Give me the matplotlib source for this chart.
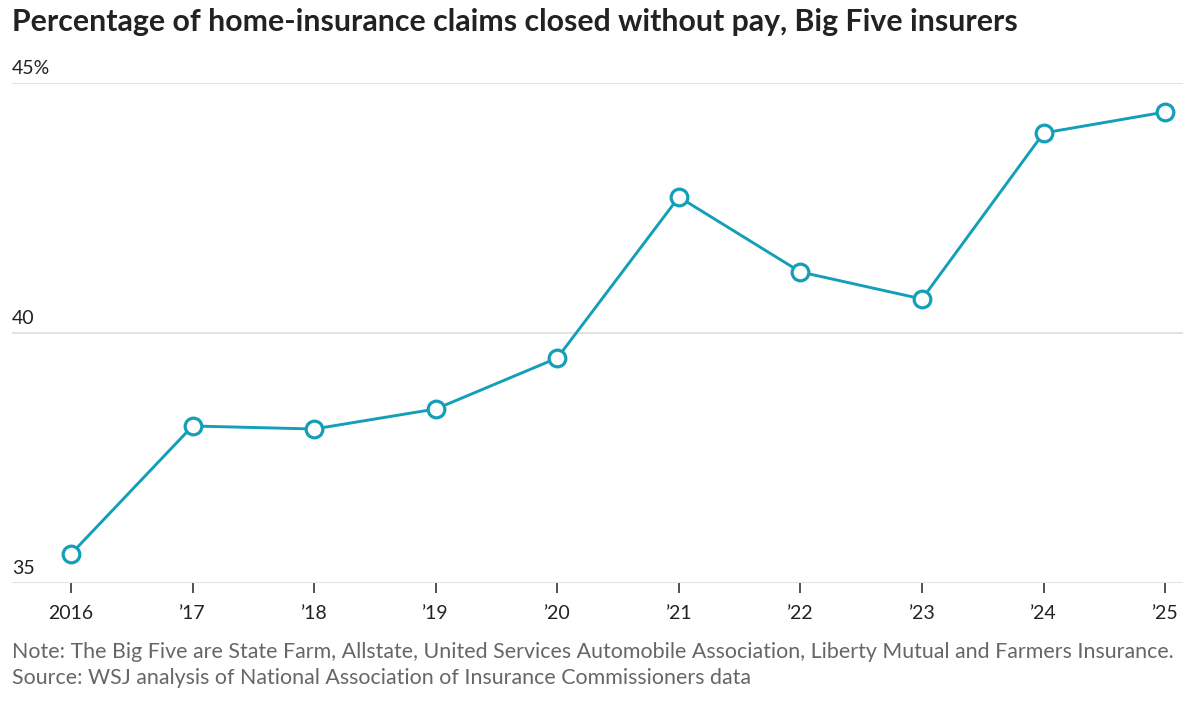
import matplotlib.pyplot as plt
import matplotlib.transforms as mtransforms

years = [2016, 2017, 2018, 2019, 2020, 2021, 2022, 2023, 2024, 2025]
x_labels = ['2016', '\u201917', '\u201918', '\u201919', '\u201920',
            '\u201921', '\u201922', '\u201923', '\u201924', '\u201925']
pct = [35.58, 38.14, 38.08, 38.48, 39.50, 42.72, 41.22, 40.68, 44.00, 44.42]
y_ticks = [35, 40, 45]
y_labels = ['35', '40', '45%']

title = 'Percentage of home-insurance claims closed without pay, Big Five insurers'
note = ('Note: The Big Five are State Farm, Allstate, United Services Automobile Association, '
        'Liberty Mutual and Farmers Insurance.\n'
        'Source: WSJ analysis of National Association of Insurance Commissioners data')

plt.rcParams['font.family'] = ['Lato', 'DejaVu Sans']
teal = '#139fb8'

fig = plt.figure(figsize=(12, 7.02), dpi=100)
ax = fig.add_axes([0.01, 1 - 583 / 702, 0.976, (583 - 83) / 702])

ax.plot(years, pct, color=teal, lw=2.1, marker='o', ms=12,
        mfc='white', mec=teal, mew=2.3, clip_on=False, zorder=3)

ax.set_xlim(2016 - 59 / 121.56, 2025 + 18 / 121.56)
ax.set_ylim(35, 45)

for y in y_ticks:
    ax.axhline(y, color='#dddddd', lw=1.2, zorder=1)

trans = mtransforms.blended_transform_factory(ax.transAxes, ax.transData)
for y, lab in zip(y_ticks, y_labels):
    ax.text(0.0, y + 0.3, lab, transform=trans, ha='left', va='center',
            fontsize=14, color='#222222')

for s in ax.spines.values():
    s.set_visible(False)
ax.set_yticks([])
ax.set_xticks(years)
ax.set_xticklabels(x_labels, fontsize=14, color='#222222')
ax.tick_params(axis='x', length=7, width=1.3, color='#444444', pad=9)

fig.text(0.01, 1 - 22 / 702, title, fontsize=21.8, fontweight='bold',
         color='#222222', ha='left', va='center')
fig.text(0.01, 1 - 665 / 702, note, fontsize=15.4, color='#666666',
         ha='left', va='center', linespacing=1.35)

fig.savefig('out.png', dpi=100)
